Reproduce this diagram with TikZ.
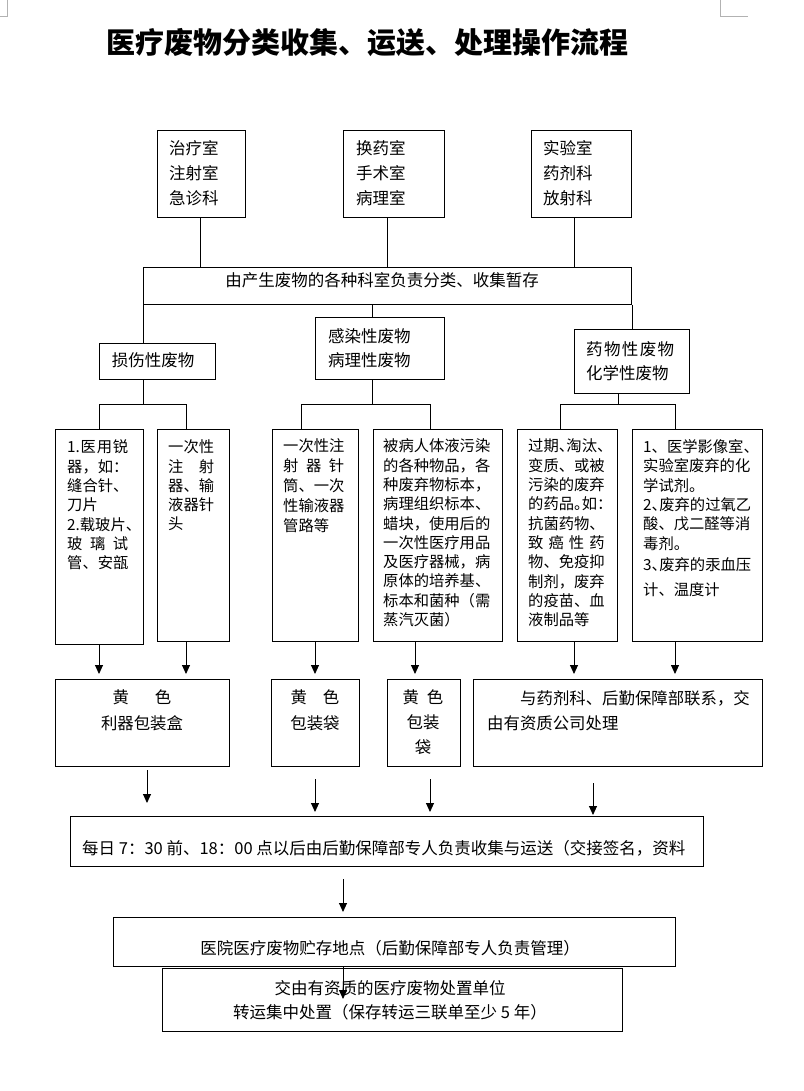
\documentclass[tikz,border=0pt]{standalone}
\usepackage{fontspec}
\usepackage{graphicx}
\setmainfont{Noto Sans CJK SC}
\usetikzlibrary{arrows.meta}
\newcommand\J[2]{\makebox[#1][s]{#2}}
\newcommand\hp[1]{\makebox[0.5em][l]{#1}}
\tikzset{
  box/.style={draw, line width=1pt, inner sep=0pt, anchor=north west},
  tb/.style={font=\fontsize{16.5}{25}\selectfont, inner sep=0pt, align=left},
  sm/.style={font=\fontsize{15.3}{19.3}\selectfont, inner sep=0pt, align=left},
  ln/.style={line width=0.9pt},
  arr/.style={line width=0.9pt, -{Triangle[width=8pt,length=9pt]}},
  cornermark/.style={draw=gray!60, line width=0.8pt}
}
\begin{document}
\begin{tikzpicture}[x=1pt,y=-1pt]
\useasboundingbox (0,0) rectangle (803,1091);
\fill[white] (0,0) rectangle (803,1091);
% corner marks
\draw[cornermark] (0,16) -- (7,16) -- (7,0);
\draw[cornermark] (720,0) -- (720,16) -- (748,16);
% title
\node[font=\fontsize{29}{29}\selectfont\bfseries, inner sep=0pt] (title) at (367,43) {医疗废物分类收集、运送、处理操作流程};
% top boxes
\node[box, minimum width=88pt, minimum height=87pt] (A) at (157,130) {};
\node[box, minimum width=101pt, minimum height=87pt] (B) at (343,130) {};
\node[box, minimum width=100pt, minimum height=87pt] (C) at (531,130) {};
\node[tb, anchor=west] (tA) at (169,173) {治疗室\\注射室\\急诊科};
\node[tb, anchor=west] (tB) at (356,173) {换药室\\手术室\\病理室};
\node[tb, anchor=west] (tC) at (543,173) {实验室\\药剂科\\放射科};
% D
\node[box, minimum width=488pt, minimum height=37pt] (D) at (143,267) {};
\node[tb] (tD) at (382,280) {由产生废物的各种科室负责分类、收集暂存};
% categories
\node[box, minimum width=116pt, minimum height=36pt] (E) at (99,343) {};
\node[box, minimum width=129pt, minimum height=62pt] (F) at (315,317) {};
\node[box, minimum width=115pt, minimum height=64pt] (G) at (574,329) {};
\node[tb] (tE) at (153,360) {损伤性废物};
\node[tb, anchor=west, font=\fontsize{16.5}{24}\selectfont] (tF) at (328,348) {感染性废物\\病理性废物};
\node[tb, anchor=west, font=\fontsize{16.5}{24}\selectfont] (tG) at (586,361) {\J{88pt}{药\hfil 物\hfil 性\hfil 废\hfil 物}\\化学性废物};
% detail boxes
\node[box, minimum width=88pt, minimum height=215pt] (H1) at (55,429) {};
\node[box, minimum width=72pt, minimum height=212pt] (H2) at (157,429) {};
\node[box, minimum width=86pt, minimum height=212pt] (H3) at (272,429) {};
\node[box, minimum width=129pt, minimum height=212pt] (H4) at (373,429) {};
\node[box, minimum width=100pt, minimum height=212pt] (H5) at (517,429) {};
\node[box, minimum width=130pt, minimum height=212pt] (H6) at (632,429) {};
\node[sm, text width=61pt, anchor=west] (tH1) at (67,505) {\J{61pt}{1.\hfil 医\hfil 用\hfil 锐}\\器，如：\\缝合针、\\刀片\\2.载玻片\hp{、}\\\J{61pt}{玻\hfil 璃\hfil 试}\\管、安瓿};
\node[sm, text width=46pt, anchor=west] (tH2) at (168,485.5) {一次性\\\J{46pt}{注\hfil 射}\\器、输\\液器针\\头};
\node[sm, text width=61pt, anchor=west, font=\fontsize{15.3}{20}\selectfont] (tH3) at (283,486) {一次性注\\\J{61pt}{射\hfil 器\hfil 针}\\筒、一次\\性输液器\\管路等};
\node[sm, text width=107pt, anchor=west] (tH4) at (383,533) {被病人体液污染\\的各种物品，各\\种废弃物标本，\\病理组织标本、\\蜡块，使用后的\\一次性医疗用品\\及医疗器械，病\\原体的培养基、\\标本和菌种（需\\蒸汽灭菌）};
\node[sm, text width=77pt, anchor=west] (tH5) at (528,533) {过期\hp{、}淘汰\hp{、}\\变质、或被\\污染的废弃\\的药品\hp{。}如\hp{：}\\抗菌药物、\\\J{76.5pt}{致\hfil 癌\hfil 性\hfil 药}\\物、免疫抑\\制剂，废弃\\的疫苗、血\\液制品等};
\node[sm, text width=107pt, anchor=west] (tH6) at (643,518) {1、医学影像室\hp{、}\\实验室废弃的化\\学试剂。\\2\hp{、}废弃的过氧乙\\酸、戊二醛等消\\毒剂。\\[2pt]3\hp{、}废弃的汞血压\\[5.5pt]计、温度计};
% containers
\node[box, minimum width=174pt, minimum height=87pt] (K1) at (55,679) {};
\node[box, minimum width=88pt, minimum height=87pt] (K2) at (271,679) {};
\node[box, minimum width=73pt, minimum height=87pt] (K3) at (387,679) {};
\node[box, minimum width=289pt, minimum height=87pt] (K4) at (473,679) {};
\node[tb, align=center, font=\fontsize{16.4}{26}\selectfont] (tK1) at (142,710) {黄\hspace{26pt}色\\利器包装盒};
\node[tb, align=center, font=\fontsize{16.4}{26}\selectfont] (tK2) at (315,710) {黄\hspace{16pt}色\\包装袋};
\node[tb, align=center, font=\fontsize{16.4}{25}\selectfont] (tK3) at (423,722) {黄\hspace{8pt}色\\包装\\袋};
\node[tb, anchor=west, font=\fontsize{16.4}{25}\selectfont] (tK4) at (487,710.5) {\hspace*{33pt}与药剂科、后勤保障部联系，交\\由有资质公司处理};
% bottom boxes
\node[box, minimum width=633pt, minimum height=50pt] (L) at (70,816) {};
\node[tb, anchor=west] (tL) at (82,848) {每日 7：30 前、18：00 点以后由后勤保障部专人负责收集与运送（交接签名，资料};
\node[box, minimum width=562pt, minimum height=49pt] (M) at (113,917) {};
\node[tb] (tM) at (390,948) {医院医疗废物贮存地点（后勤保障部专人负责管理）};
\node[box, minimum width=460pt, minimum height=63pt] (N) at (162,968) {};
\node[tb, align=center, font=\fontsize{16.5}{24}\selectfont] (tN) at (390,1000) {交由有资质的医疗废物处置单位\\转运集中处置（保存转运三联单至少 5 年）};
% helper coordinates
\coordinate (xA) at (200,0);
\coordinate (xB) at (387,0);
\coordinate (xC) at (574,0);
\coordinate (xF) at (372,0);
\coordinate (bE) at (143,404);
\coordinate (bE1) at (99,404);
\coordinate (bE2) at (186,404);
\coordinate (bF) at (372,404);
\coordinate (bF1) at (301,404);
\coordinate (bF2) at (430,404);
\coordinate (bG) at (618,404);
\coordinate (bG1) at (560,404);
\coordinate (bG2) at (675,404);
\coordinate (aK2) at (315,0);
\coordinate (aK3) at (415,0);
\coordinate (aK4) at (574,0);
\coordinate (aL1) at (147,0);
\coordinate (aL4) at (593,0);
\coordinate (aM) at (343,0);
\coordinate (mn) at (343,999);
% connectors top
\draw[ln] (A.south -| xA) -- (D.north -| xA);
\draw[ln] (B.south -| xB) -- (D.north -| xB);
\draw[ln] (C.south -| xC) -- (D.north -| xC);
\draw[ln] (D.south west) -- (E.north -| D.south west);
\draw[ln] (D.south -| xF) -- (F.north -| xF);
\draw[ln] (D.south east) -- (G.north -| D.south east);
% bars
\draw[ln] (E.south -| bE) -- (bE);
\draw[ln] (H1.north -| bE1) -- (bE1) -- (bE2) -- (H2.north -| bE2);
\draw[ln] (F.south -| bF) -- (bF);
\draw[ln] (H3.north -| bF1) -- (bF1) -- (bF2) -- (H4.north -| bF2);
\draw[ln] (G.south -| bG) -- (bG);
\draw[ln] (H5.north -| bG1) -- (bG1) -- (bG2) -- (H6.north -| bG2);
% arrows to containers
\draw[arr, shorten >=5pt] (H1.south -| bE1) -- (K1.north -| bE1);
\draw[arr, shorten >=5pt] (H2.south -| bE2) -- (K1.north -| bE2);
\draw[arr, shorten >=5pt] (H3.south -| aK2) -- (K2.north -| aK2);
\draw[arr, shorten >=5pt] (H4.south -| aK3) -- (K3.north -| aK3);
\draw[arr, shorten >=5pt] (H5.south -| aK4) -- (K4.north -| aK4);
\draw[arr, shorten >=5pt] (H6.south -| bG2) -- (K4.north -| bG2);
% arrows to L
\draw[arr, shorten <=3pt, shorten >=13pt] (K1.south -| aL1) -- (L.north -| aL1);
\draw[arr, shorten <=12pt, shorten >=4pt] (K2.south -| aK2) -- (L.north -| aK2);
\draw[arr, shorten <=12pt, shorten >=4pt] (K3.south -| bF2) -- (L.north -| bF2);
\draw[arr, shorten <=16pt, shorten >=1pt] (K4.south -| aL4) -- (L.north -| aL4);
% L to M, M to N
\draw[arr, shorten <=12pt, shorten >=5pt] (L.south -| aM) -- (M.north -| aM);
\draw[arr] (M.south -| aM) -- (mn);
\end{tikzpicture}
\end{document}
